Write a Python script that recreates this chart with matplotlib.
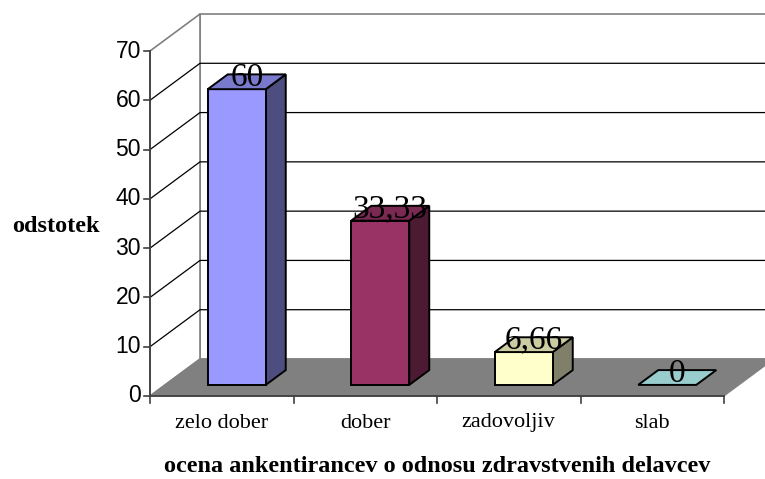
import matplotlib
matplotlib.use("Agg")
import matplotlib.pyplot as plt
from matplotlib.patches import Polygon

categories = ["zelo dober", "dober", "zadovoljiv", "slab"]
values = [60, 33.33, 6.66, 0]
value_labels = ["60", "33,33", "6,66", "0"]
yticks = [0, 10, 20, 30, 40, 50, 60, 70]
x_title = "ocena ankentirancev o odnosu zdravstvenih delavcev"
y_title = "odstotek"

front_colors = ["#9999FF", "#993366", "#FFFFCC", "#99CCCC"]
side_colors = ["#4D4D80", "#4D1A33", "#80806A", "#4D6666"]
top_colors = ["#7A7ACC", "#7A2952", "#CCCCA3", "#99CCCC"]

W, H = 765, 479
fig = plt.figure(figsize=(W / 100, H / 100), dpi=100)
ax = fig.add_axes([0, 0, 1, 1])
ax.set_axis_off()

# pixel geometry of the front plane
px_left, px_right, px_zero, px_top = 150, 724, 396, 51
ncat = len(categories)
cat_px = (px_right - px_left) / ncat
vmax = 70
unit_px = (px_zero - px_top) / vmax
ax.set_xlim(-px_left / cat_px, (W - px_left) / cat_px)
ax.set_ylim(-(H - px_zero) / unit_px, px_zero / unit_px)

DX = 50 / cat_px   # depth offset in category units
DY = 37 / unit_px  # depth offset in value units


def P(x, v, d):
    return (x + DX * d, v + DY * d)


def poly(pts, fc, ec, lw=1.0, z=1):
    ax.add_patch(Polygon(pts, closed=True, facecolor=fc, edgecolor=ec,
                         linewidth=lw, zorder=z, joinstyle="miter"))

# back wall
poly([P(0, 0, 1), P(ncat, 0, 1), P(ncat, vmax, 1), P(0, vmax, 1)],
     "white", "#808080", 1.2, 1)
# left wall
poly([P(0, 0, 0), P(0, 0, 1), P(0, vmax, 1), P(0, vmax, 0)],
     "white", "#808080", 1.2, 1)
# gridlines
for v in yticks[1:-1]:
    xs = [P(0, v, 0)[0], P(0, v, 1)[0], P(ncat, v, 1)[0]]
    ys = [P(0, v, 0)[1], P(0, v, 1)[1], P(ncat, v, 1)[1]]
    ax.plot(xs, ys, color="black", lw=0.9, zorder=2, solid_joinstyle="miter")
# floor
poly([P(0, 0, 0), P(ncat, 0, 0), P(ncat, 0, 1), P(0, 0, 1)],
     "#808080", "#808080", 0.8, 3)

# axes lines and ticks
ax.plot([0, 0], [0, vmax], color="#404040", lw=1.3, zorder=4)
ax.plot([0, ncat], [0, 0], color="#404040", lw=1.3, zorder=4)
tl_x = 6 / cat_px
tl_y = 7 / unit_px
for v in yticks:
    ax.plot([-tl_x, 0], [v, v], color="#404040", lw=1.2, zorder=4)
    ax.text(-9 / cat_px, v, str(v), ha="right", va="center",
            family="Liberation Sans", fontsize=16.5, color="black")
for i in range(ncat + 1):
    ax.plot([i, i], [0, -tl_y], color="#404040", lw=1.2, zorder=4)
for i, c in enumerate(categories):
    ax.text(i + 0.5, -27 / unit_px, c, ha="center", va="center",
            family="Liberation Serif", fontsize=16, color="black")

# bars
half = 0.5 * 58 / cat_px
d0, d1 = 0.3, 0.7
for i, v in enumerate(values):
    xl, xr = i + 0.5 - half, i + 0.5 + half
    z = 5 + i
    if v > 0:
        poly([P(xr, 0, d0), P(xr, 0, d1), P(xr, v, d1), P(xr, v, d0)],
             side_colors[i], "black", 1.4, z)
        poly([P(xl, 0, d0), P(xr, 0, d0), P(xr, v, d0), P(xl, v, d0)],
             front_colors[i], "black", 1.4, z)
    poly([P(xl, v, d0), P(xr, v, d0), P(xr, v, d1), P(xl, v, d1)],
         top_colors[i], "black", 1.4, z)
    lx, ly = P(i + 0.5, v, 0.5)
    ax.text(lx, ly - 4 / unit_px, value_labels[i], ha="center", va="baseline",
            family="Liberation Serif", fontsize=24, color="black", zorder=20)

# axis titles
ax.text((56 - px_left) / cat_px, (px_zero - 226) / unit_px, y_title,
        ha="center", va="center", family="Liberation Serif",
        fontweight="bold", fontsize=17.5, color="black")
ax.text((437 - px_left) / cat_px, (px_zero - 466) / unit_px, x_title,
        ha="center", va="center", family="Liberation Serif",
        fontweight="bold", fontsize=17.5, color="black")

fig.savefig("out.png", dpi=100)
